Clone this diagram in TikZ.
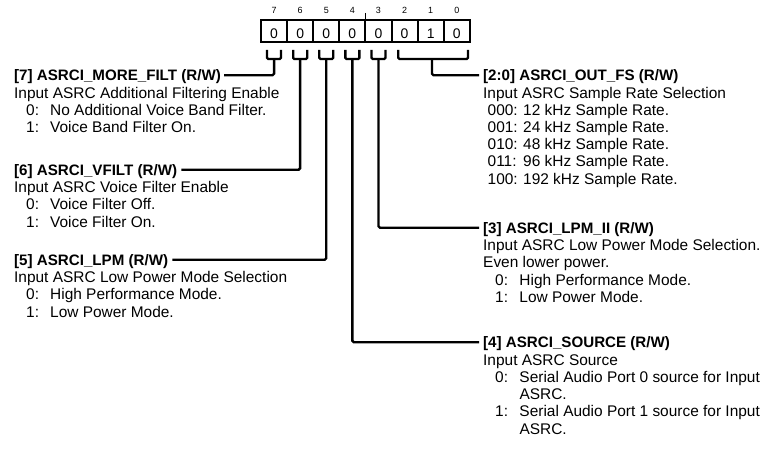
\documentclass[tikz,border=0pt]{standalone}
\usepackage{fontspec}
\setmainfont{Liberation Sans}
\begin{document}
\begin{tikzpicture}[x=1bp,y=-1bp,
  txt/.style={anchor=base west, inner sep=0pt, font=\fontsize{15.5}{17}\selectfont},
  lbl/.style={anchor=base west, inner sep=0pt, text height=11.5bp, text depth=0pt,
    font=\fontsize{15.2}{17}\selectfont\bfseries},
  bitbox/.style={draw, line width=2bp, inner sep=0pt, minimum width=26.1bp,
    text height=18.3bp, text depth=3.4bp, font=\fontsize{14}{16}\selectfont},
  bitnum/.style={anchor=base, inner sep=0pt, font=\fontsize{9}{10}\selectfont},
  brk/.style={line width=2.3bp, rounded corners=1.2bp},
  conn/.style={line width=2.4bp, rounded corners=1.5bp}]
\path[use as bounding box] (0,0) rectangle (777,451);

% register boxes
\foreach \b/\v [count=\i from 0] in {7/0,6/0,5/0,4/0,3/0,2/0,1/1,0/0}{
  \node[bitbox] (b\b) at ({261+26.1*(\i+0.5)},30.85) {\v};
  \node[bitnum] (n\b) at ({261+26.1*(\i+0.5)},14) {\b};
}
\coordinate (tk1) at (365.5,13);
\coordinate (tk2) at (365.5,20);
\draw[line width=1.3bp] (tk1) -- (tk2);

% brackets
\foreach \b in {7,6,5,4,3}{
  \draw[brk] ([xshift=-7bp]b\b.center |- 0,50) -- ([xshift=-7bp]b\b.center |- 0,59)
     -- ([xshift=7bp]b\b.center |- 0,59) -- ([xshift=7bp]b\b.center |- 0,50);
  \coordinate (s\b) at (b\b.center |- 0,59);
}
\draw[brk] (398.3,50) -- (398.3,59) -- (468,59) -- (468,50);
\coordinate (s20) at (432,59);

% left column
\node[lbl] (l7) at (14,81) {[7] ASRCI\_MORE\_FILT (R/W)};
\node[txt] (d7) at (14,98.2) {Input ASRC Additional Filtering Enable};
\node[txt] (e7a) at (26,115.4) {\makebox[24bp][l]{0:}No Additional Voice Band Filter.};
\node[txt] (e7b) at (26,132.6) {\makebox[24bp][l]{1:}Voice Band Filter On.};

\node[lbl] (l6) at (14,175.5) {[6] ASRCI\_VFILT (R/W)};
\node[txt] (d6) at (14,192.7) {Input ASRC Voice Filter Enable};
\node[txt] (e6a) at (26,209.9) {\makebox[24bp][l]{0:}Voice Filter Off.};
\node[txt] (e6b) at (26,227.1) {\makebox[24bp][l]{1:}Voice Filter On.};

\node[lbl] (l5) at (14,265.5) {[5] ASRCI\_LPM (R/W)};
\node[txt] (d5) at (14,282.7) {Input ASRC Low Power Mode Selection};
\node[txt] (e5a) at (26,299.9) {\makebox[24bp][l]{0:}High Performance Mode.};
\node[txt] (e5b) at (26,317.1) {\makebox[24bp][l]{1:}Low Power Mode.};

% right column
\node[lbl] (l20) at (483,81) {[2:0] ASRCI\_OUT\_FS (R/W)};
\node[txt] (d20) at (483,98.2) {Input ASRC Sample Rate Selection};
\node[txt] (e20a) at (487.5,115.4) {\makebox[35.5bp][l]{000:}12 kHz Sample Rate.};
\node[txt] (e20b) at (487.5,132.6) {\makebox[35.5bp][l]{001:}24 kHz Sample Rate.};
\node[txt] (e20c) at (487.5,149.8) {\makebox[35.5bp][l]{010:}48 kHz Sample Rate.};
\node[txt] (e20d) at (487.5,167) {\makebox[35.5bp][l]{011:}96 kHz Sample Rate.};
\node[txt] (e20e) at (487.5,184.2) {\makebox[35.5bp][l]{100:}192 kHz Sample Rate.};

\node[lbl] (l3) at (483,233.5) {[3] ASRCI\_LPM\_II (R/W)};
\node[txt] (d3) at (483,250.7) {Input ASRC Low Power Mode Selection.};
\node[txt] (d3b) at (483,267.9) {Even lower power.};
\node[txt] (e3a) at (495,285.1) {\makebox[24.3bp][l]{0:}High Performance Mode.};
\node[txt] (e3b) at (495,302.3) {\makebox[24.3bp][l]{1:}Low Power Mode.};

\node[lbl] (l4) at (483,348) {[4] ASRCI\_SOURCE (R/W)};
\node[txt] (d4) at (483,365.2) {Input ASRC Source};
\node[txt] (e4a) at (495,382.4) {\makebox[24.3bp][l]{0:}Serial Audio Port 0 source for Input};
\node[txt] (e4b) at (519.3,399.6) {ASRC.};
\node[txt] (e4c) at (495,416.8) {\makebox[24.3bp][l]{1:}Serial Audio Port 1 source for Input};
\node[txt] (e4d) at (519.3,434) {ASRC.};

% connectors
\draw[conn] (s7) |- ([xshift=3bp]l7.east);
\draw[conn] (s6) |- ([xshift=4bp]l6.east);
\draw[conn] (s5) |- ([xshift=4bp]l5.east);
\draw[conn] (s4) |- ([xshift=-4bp]l4.west);
\draw[conn] (s3) |- ([xshift=-4bp]l3.west);
\draw[conn] (s20) |- ([xshift=-4bp]l20.west);
\end{tikzpicture}
\end{document}
